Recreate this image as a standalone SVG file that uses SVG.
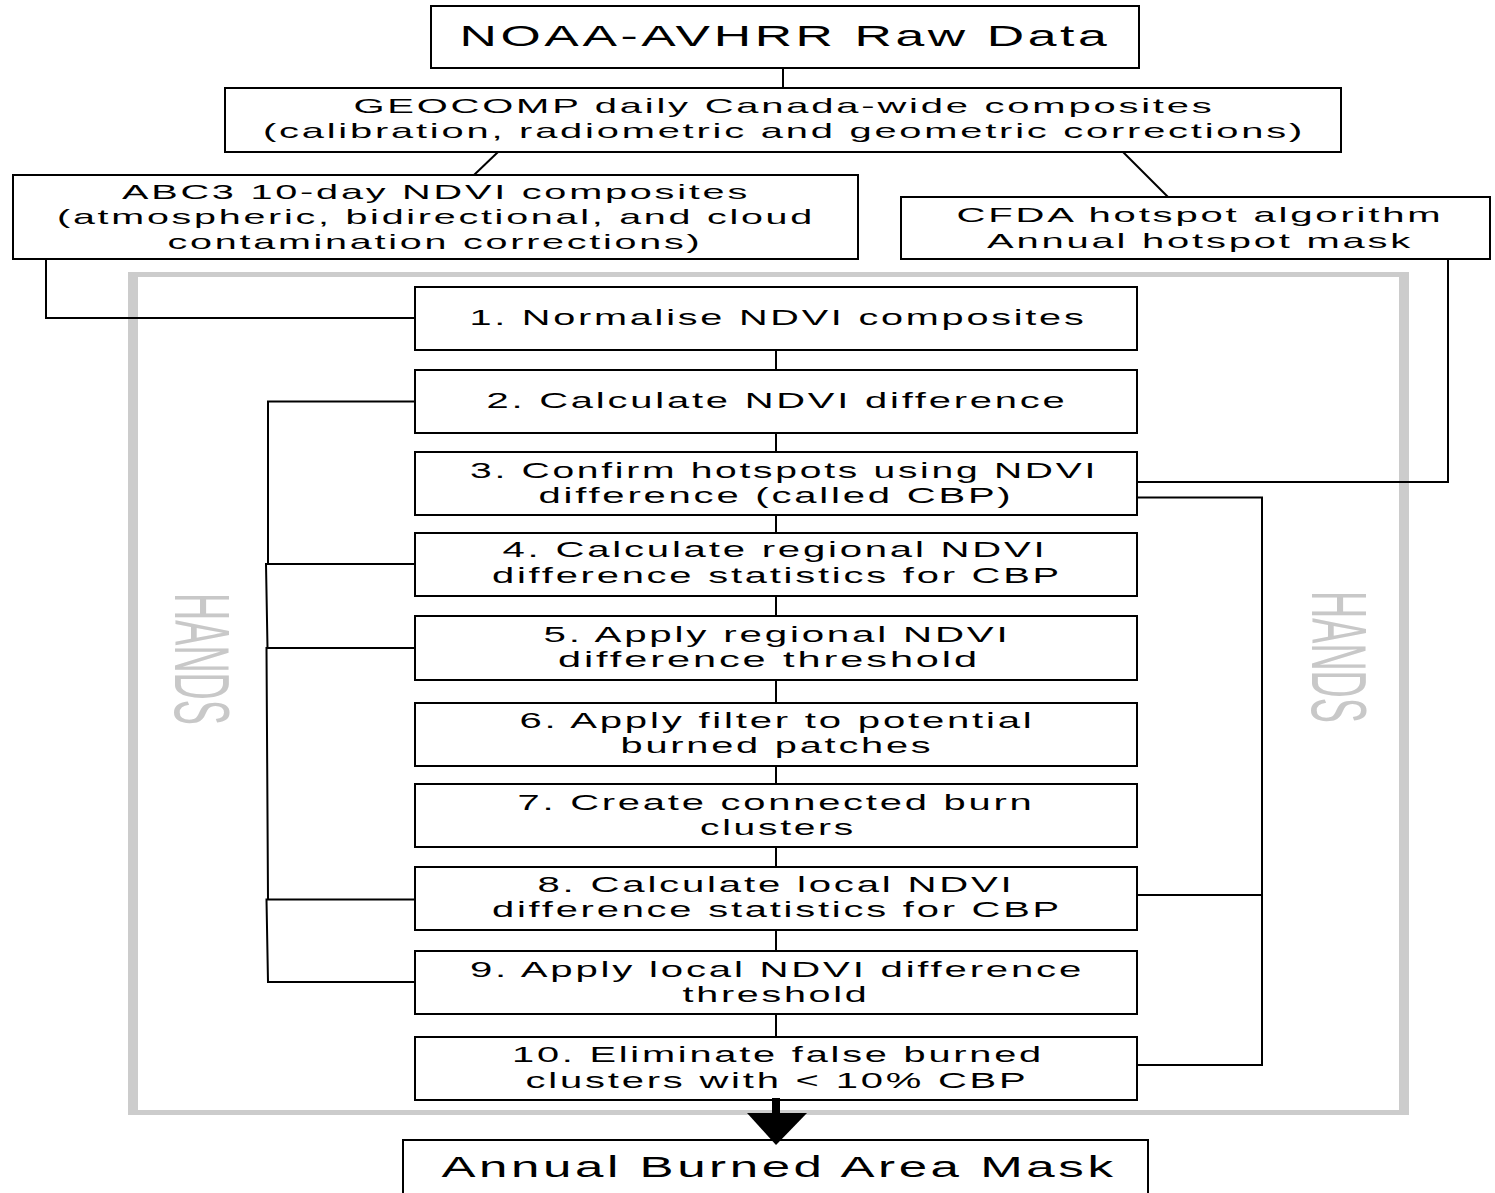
<svg xmlns="http://www.w3.org/2000/svg" width="1495" height="1193" viewBox="0 0 1495 1193">
<style>
.box{fill:#fff;stroke:#000;stroke-width:2}
.conn{fill:none;stroke:#000;stroke-width:2}
.t{font-family:"Liberation Sans",Arial,sans-serif;fill:#000;text-anchor:middle;letter-spacing:0.07em}
.s22{font-size:22px}
.s21{font-size:21px}
.s30{font-size:30px}
.hands{font-family:"Liberation Sans",Arial,sans-serif;font-size:77px;fill:#c8c8c8;text-anchor:middle}
</style>
<rect width="1495" height="1193" fill="#fff"/>
<g id="hands-frame">
<path d="M128,272 H1409 V1115 H128 Z M138,277 V1110 H1399 V277 Z" fill="#cccccc" fill-rule="evenodd"/>
<text class="hands" transform="translate(175,659) rotate(90)" x="0" y="0" textLength="132" lengthAdjust="spacingAndGlyphs">HANDS</text>
<text class="hands" transform="translate(1312,657) rotate(90)" x="0" y="0" textLength="132" lengthAdjust="spacingAndGlyphs">HANDS</text>
</g>
<g id="connectors">
<path class="conn" d="M783,68 V88"/>
<path class="conn" d="M498,152 L474,175"/>
<path class="conn" d="M1123,152 L1168,197"/>
<path class="conn" d="M46,259 V318 H415"/>
<path class="conn" d="M1448,259 V482 H1137"/>
<path class="conn" d="M776,350 V370 M776,433 V452 M776,515 V533 M776,596 V616 M776,680 V703 M776,766 V784 M776,847 V867 M776,930 V951 M776,1014 V1037"/>
<path class="conn" d="M415,401.5 H268 V564.5"/>
<path class="conn" d="M415,564 H266 L267.5,648"/>
<path class="conn" d="M415,648 H266.5 L268,899"/>
<path class="conn" d="M415,899.5 H266.5 L268,982 H415"/>
<path class="conn" d="M1138,497.5 H1262 V1065 H1137"/>
<path class="conn" d="M1137,895 H1262"/>
</g>
<g id="n-raw">
<rect class="box" x="431" y="6" width="708" height="62"/>
<text class="t s30" x="785" y="46" textLength="651" lengthAdjust="spacingAndGlyphs">NOAA-AVHRR Raw Data</text>
</g>
<g id="n-geocomp">
<rect class="box" x="225" y="88" width="1116" height="64"/>
<text class="t s21" x="784" y="113" textLength="861" lengthAdjust="spacingAndGlyphs">GEOCOMP daily Canada-wide composites</text>
<text class="t s21" x="784" y="138" textLength="1042" lengthAdjust="spacingAndGlyphs">(calibration, radiometric and geometric corrections)</text>
</g>
<g id="n-abc3">
<rect class="box" x="13" y="175" width="845" height="84"/>
<text class="t s21" x="436" y="199" textLength="628" lengthAdjust="spacingAndGlyphs">ABC3 10-day NDVI composites</text>
<text class="t s21" x="436" y="224" textLength="758" lengthAdjust="spacingAndGlyphs">(atmospheric, bidirectional, and cloud</text>
<text class="t s21" x="435" y="249" textLength="535" lengthAdjust="spacingAndGlyphs">contamination corrections)</text>
</g>
<g id="n-cfda">
<rect class="box" x="901" y="197" width="589" height="62"/>
<text class="t s21" x="1200" y="222" textLength="487" lengthAdjust="spacingAndGlyphs">CFDA hotspot algorithm</text>
<text class="t s21" x="1200" y="248" textLength="426" lengthAdjust="spacingAndGlyphs">Annual hotspot mask</text>
</g>
<g id="n-step1">
<rect class="box" x="415" y="287" width="722" height="63"/>
<text class="t s22" x="778" y="325" textLength="617" lengthAdjust="spacingAndGlyphs">1. Normalise NDVI composites</text>
</g>
<g id="n-step2">
<rect class="box" x="415" y="370" width="722" height="63"/>
<text class="t s22" x="777" y="408" textLength="581" lengthAdjust="spacingAndGlyphs">2. Calculate NDVI difference</text>
</g>
<g id="n-step3">
<rect class="box" x="415" y="452" width="722" height="63"/>
<text class="t s22" x="784" y="478" textLength="628" lengthAdjust="spacingAndGlyphs">3. Confirm hotspots using NDVI</text>
<text class="t s22" x="776" y="503" textLength="475" lengthAdjust="spacingAndGlyphs">difference (called CBP)</text>
</g>
<g id="n-step4">
<rect class="box" x="415" y="533" width="722" height="63"/>
<text class="t s22" x="775" y="557" textLength="545" lengthAdjust="spacingAndGlyphs">4. Calculate regional NDVI</text>
<text class="t s22" x="777" y="583" textLength="570" lengthAdjust="spacingAndGlyphs">difference statistics for CBP</text>
</g>
<g id="n-step5">
<rect class="box" x="415" y="616" width="722" height="64"/>
<text class="t s22" x="777" y="642" textLength="467" lengthAdjust="spacingAndGlyphs">5. Apply regional NDVI</text>
<text class="t s22" x="769" y="667" textLength="422" lengthAdjust="spacingAndGlyphs">difference threshold</text>
</g>
<g id="n-step6">
<rect class="box" x="415" y="703" width="722" height="63"/>
<text class="t s22" x="777" y="728" textLength="515" lengthAdjust="spacingAndGlyphs">6. Apply filter to potential</text>
<text class="t s22" x="777" y="753" textLength="313" lengthAdjust="spacingAndGlyphs">burned patches</text>
</g>
<g id="n-step7">
<rect class="box" x="415" y="784" width="722" height="63"/>
<text class="t s22" x="776" y="810" textLength="517" lengthAdjust="spacingAndGlyphs">7. Create connected burn</text>
<text class="t s22" x="778" y="835" textLength="156" lengthAdjust="spacingAndGlyphs">clusters</text>
</g>
<g id="n-step8">
<rect class="box" x="415" y="867" width="722" height="63"/>
<text class="t s22" x="776" y="892" textLength="477" lengthAdjust="spacingAndGlyphs">8. Calculate local NDVI</text>
<text class="t s22" x="777" y="917" textLength="570" lengthAdjust="spacingAndGlyphs">difference statistics for CBP</text>
</g>
<g id="n-step9">
<rect class="box" x="415" y="951" width="722" height="63"/>
<text class="t s22" x="777" y="977" textLength="614" lengthAdjust="spacingAndGlyphs">9. Apply local NDVI difference</text>
<text class="t s22" x="776" y="1002" textLength="187" lengthAdjust="spacingAndGlyphs">threshold</text>
</g>
<g id="n-step10">
<rect class="box" x="415" y="1037" width="722" height="63"/>
<text class="t s22" x="778" y="1062" textLength="532" lengthAdjust="spacingAndGlyphs">10. Eliminate false burned</text>
<text class="t s22" x="777" y="1088" textLength="503" lengthAdjust="spacingAndGlyphs">clusters with &lt; 10% CBP</text>
</g>
<g id="n-annual">
<rect class="box" x="403" y="1140" width="745" height="80"/>
<text class="t s30" x="779" y="1177" textLength="675" lengthAdjust="spacingAndGlyphs">Annual Burned Area Mask</text>
</g>
<g id="arrow">
<rect x="772" y="1098" width="8" height="16" fill="#000"/>
<polygon points="747,1113 807,1113 776,1145" fill="#000"/>
</g>
</svg>
